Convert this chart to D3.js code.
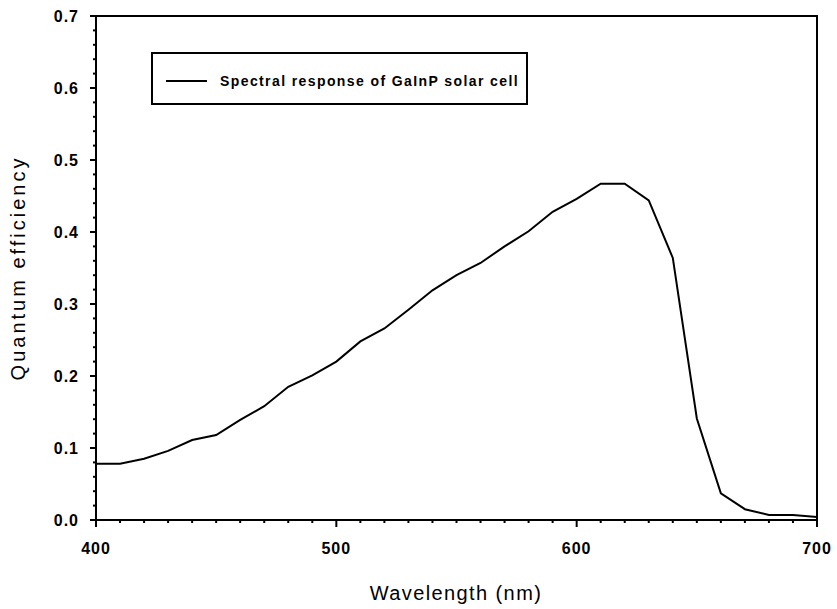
<!DOCTYPE html>
<html>
<head>
<meta charset="utf-8">
<script src="https://cdn.jsdelivr.net/npm/d3@7"></script>
<style>
  body { margin: 0; background: #fff; }
  svg { display: block; }
  .tick-label { font-family: "Liberation Sans", Arial, sans-serif; font-weight: bold; font-size: 16px; letter-spacing: 1px; fill: #000; }
  .axis-title { font-family: "Liberation Sans", Arial, sans-serif; font-size: 20px; fill: #000; }
  .legend-text { font-family: "Liberation Sans", Arial, sans-serif; font-weight: bold; font-size: 14px; letter-spacing: 1.4px; fill: #000; }
</style>
</head>
<body>
<svg id="chart" width="837" height="609"></svg>
<script>
// wavelength (nm) and measured quantum efficiency
var wavelengths = [400, 410, 420, 430, 440, 450, 460, 470, 480, 490,
                   500, 510, 520, 530, 540, 550, 560, 570, 580, 590,
                   600, 610, 620, 630, 640, 650, 660, 670, 680, 690, 700];
var efficiency = [0.078, 0.078, 0.085, 0.096, 0.111, 0.118, 0.139, 0.158, 0.185, 0.201,
                  0.220, 0.248, 0.266, 0.292, 0.319, 0.340, 0.357, 0.380, 0.401, 0.428,
                  0.446, 0.467, 0.467, 0.444, 0.364, 0.141, 0.037, 0.015, 0.007, 0.007, 0.004];
var xTicks = [400, 500, 600, 700];
var yTicks = [0.0, 0.1, 0.2, 0.3, 0.4, 0.5, 0.6, 0.7];
var seriesName = 'Spectral response of GaInP solar cell';

(function () {
    'use strict';

    var svg = d3.select('#chart');
    var plotLeft = 96, plotRight = 817, plotTop = 16, plotBottom = 520;

    var x = d3.scaleLinear().domain([400, 700]).range([plotLeft, plotRight]);
    var y = d3.scaleLinear().domain([0, 0.7]).range([plotBottom, plotTop]);

    // minor ticks
    var xMinor = d3.range(410, 700, 10).filter(function (v) { return v % 100 !== 0; });
    var yMinor = d3.range(0.02, 0.7, 0.02).filter(function (v) {
        return Math.abs(v * 10 - Math.round(v * 10)) > 1e-6;
    });

    svg.append('g').selectAll('line').data(xMinor).enter().append('line')
        .attr('x1', function (d) { return x(d); }).attr('x2', function (d) { return x(d); })
        .attr('y1', plotBottom).attr('y2', plotBottom + 3)
        .attr('stroke', '#000').attr('stroke-width', 2);

    svg.append('g').selectAll('line').data(yMinor).enter().append('line')
        .attr('y1', function (d) { return y(d); }).attr('y2', function (d) { return y(d); })
        .attr('x1', plotLeft - 3).attr('x2', plotLeft)
        .attr('stroke', '#000').attr('stroke-width', 2);

    // major ticks
    svg.append('g').selectAll('line').data(xTicks).enter().append('line')
        .attr('x1', function (d) { return x(d); }).attr('x2', function (d) { return x(d); })
        .attr('y1', plotBottom).attr('y2', plotBottom + 7)
        .attr('stroke', '#000').attr('stroke-width', 2);

    svg.append('g').selectAll('line').data(yTicks).enter().append('line')
        .attr('y1', function (d) { return y(d); }).attr('y2', function (d) { return y(d); })
        .attr('x1', plotLeft - 6).attr('x2', plotLeft)
        .attr('stroke', '#000').attr('stroke-width', 2);

    // frame
    svg.append('rect')
        .attr('x', plotLeft).attr('y', plotTop)
        .attr('width', plotRight - plotLeft).attr('height', plotBottom - plotTop)
        .attr('fill', 'none').attr('stroke', '#000').attr('stroke-width', 2);

    // tick labels
    svg.append('g').selectAll('text').data(xTicks).enter().append('text')
        .attr('class', 'tick-label')
        .attr('x', function (d) { return x(d); })
        .attr('y', plotBottom + 34)
        .attr('text-anchor', 'middle')
        .text(function (d) { return d; });

    svg.append('g').selectAll('text').data(yTicks).enter().append('text')
        .attr('class', 'tick-label')
        .attr('x', plotLeft - 17)
        .attr('y', function (d) { return y(d) + 6; })
        .attr('text-anchor', 'end')
        .text(function (d) { return d.toFixed(1); });

    // axis titles
    svg.append('text')
        .attr('class', 'axis-title')
        .attr('x', 456)
        .attr('y', 600)
        .attr('text-anchor', 'middle')
        .style('letter-spacing', '1.4px')
        .text('Wavelength (nm)');

    svg.append('text')
        .attr('class', 'axis-title')
        .attr('transform', 'translate(25,268) rotate(-90)')
        .attr('text-anchor', 'middle')
        .style('letter-spacing', '3px')
        .text('Quantum efficiency');

    // curve
    var line = d3.line()
        .x(function (d, i) { return x(wavelengths[i]); })
        .y(function (d) { return y(d); });

    svg.append('path')
        .datum(efficiency)
        .attr('d', line)
        .attr('fill', 'none')
        .attr('stroke', '#000')
        .attr('stroke-width', 2);

    // legend
    var legend = svg.append('g');
    legend.append('rect')
        .attr('x', 152).attr('y', 53)
        .attr('width', 375).attr('height', 51)
        .attr('fill', '#fff').attr('stroke', '#000').attr('stroke-width', 2);
    legend.append('line')
        .attr('x1', 166).attr('x2', 207)
        .attr('y1', 81).attr('y2', 81)
        .attr('stroke', '#000').attr('stroke-width', 2);
    legend.append('text')
        .attr('class', 'legend-text')
        .attr('x', 220).attr('y', 86)
        .text(seriesName);
})();
</script>
</body>
</html>
